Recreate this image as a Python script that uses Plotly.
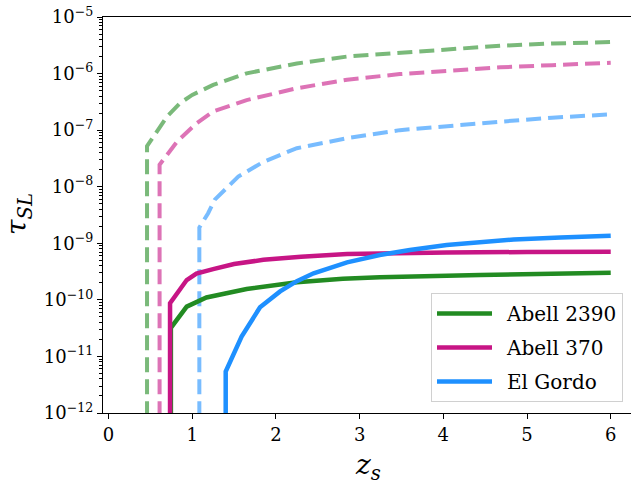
import plotly.graph_objects as go

# ---- data ----
z_a2390_dash = [0.46, 0.46, 0.70, 0.854, 1.0, 1.25, 1.65, 2.25, 2.85, 3.48, 4.0, 4.68, 5.3, 6.0]
tau_a2390_dash = [1e-14, 5.2e-8, 1.74e-7, 3.0e-7, 4.2e-7, 6.3e-7, 1.01e-6, 1.51e-6, 2.0e-6, 2.35e-6, 2.7e-6, 3.1e-6, 3.4e-6, 3.6e-6]

z_a370_dash = [0.61, 0.61, 0.82, 1.05, 1.25, 1.65, 2.25, 2.85, 3.48, 4.0, 4.68, 5.3, 6.0]
tau_a370_dash = [1e-14, 2.45e-8, 6.3e-8, 1.32e-7, 2.14e-7, 3.4e-7, 5.5e-7, 7.8e-7, 9.8e-7, 1.12e-6, 1.29e-6, 1.41e-6, 1.55e-6]

z_elgordo_dash = [1.085, 1.085, 1.19, 1.27, 1.55, 1.85, 2.25, 2.85, 3.48, 4.0, 4.68, 5.3, 6.0]
tau_elgordo_dash = [1e-14, 1.9e-9, 3.4e-9, 5.9e-9, 1.51e-8, 2.75e-8, 4.8e-8, 7.2e-8, 1.0e-7, 1.17e-7, 1.41e-7, 1.66e-7, 1.9e-7]

z_a2390 = [0.745, 0.745, 0.934, 1.17, 1.65, 2.25, 2.8, 3.24, 4.44, 6.0]
tau_a2390 = [1e-14, 3.2e-11, 7.6e-11, 1.1e-10, 1.55e-10, 2.04e-10, 2.35e-10, 2.5e-10, 2.75e-10, 3.0e-10]

z_a370 = [0.735, 0.735, 0.934, 1.05, 1.25, 1.5, 1.85, 2.3, 2.85, 3.4, 4.04, 5.0, 6.0]
tau_a370 = [1e-14, 8.7e-11, 2.24e-10, 2.9e-10, 3.5e-10, 4.3e-10, 5.1e-10, 5.8e-10, 6.45e-10, 6.75e-10, 6.9e-10, 7.0e-10, 7.1e-10]

z_elgordo = [1.40, 1.40, 1.59, 1.81, 2.05, 2.25, 2.45, 2.85, 3.24, 3.6, 4.04, 4.84, 5.4, 6.0]
tau_elgordo = [1e-14, 5.4e-12, 2.24e-11, 7.4e-11, 1.41e-10, 2.14e-10, 2.95e-10, 4.6e-10, 6.2e-10, 7.6e-10, 9.3e-10, 1.17e-9, 1.27e-9, 1.36e-9]

labels = ["Abell 2390", "Abell 370", "El Gordo"]
x_ticks = [0, 1, 2, 3, 4, 5, 6]
y_exps = [-12, -11, -10, -9, -8, -7, -6, -5]

solid_colors = ["#228B22", "#C71585", "#1E90FF"]
dash_colors = ["rgba(34,139,34,0.6)", "rgba(199,21,133,0.6)", "rgba(30,144,255,0.6)"]

FONT = "DejaVu Serif, Liberation Serif, serif"

L, T, R, B = 103, 17, 631, 413
W, H = 631, 480
pw, ph = R - L, B - T

fig = go.Figure()

dash_sets = [(z_a2390_dash, tau_a2390_dash), (z_a370_dash, tau_a370_dash), (z_elgordo_dash, tau_elgordo_dash)]
for (zx, ty), c in zip(dash_sets, dash_colors):
    fig.add_trace(go.Scatter(x=zx, y=ty, mode="lines", showlegend=False, hoverinfo="skip",
                             line=dict(color=c, width=4, dash="15px,7px")))

solid_sets = [(z_a2390, tau_a2390), (z_a370, tau_a370), (z_elgordo, tau_elgordo)]
for (zx, ty), c, lab in zip(solid_sets, solid_colors, labels):
    fig.add_trace(go.Scatter(x=zx, y=ty, mode="lines", name="\u2002" + lab, legendgroup=lab,
                             line=dict(color=c, width=4.5)))

minor_vals = [m * 10.0 ** e for e in range(-12, -5) for m in range(2, 10)]

fig.update_layout(
    width=W, height=H,
    margin=dict(l=L, r=W - R, t=T, b=H - B, autoexpand=False),
    plot_bgcolor="white", paper_bgcolor="white",
    font=dict(family=FONT, size=18, color="black"),
    showlegend=True,
    legend=dict(x=(623 - L) / pw, y=(B - 402) / ph, xanchor="right", yanchor="bottom",
                bgcolor="rgba(255,255,255,0.8)", bordercolor="#d0d0d0", borderwidth=1,
                font=dict(family=FONT, size=20), itemwidth=55, tracegroupgap=5),
    xaxis=dict(range=[-0.066, -0.066 + pw / 83.7], showgrid=False, zeroline=False, automargin=False,
               showline=True, linecolor="black", linewidth=1.2, mirror=True,
               ticks="outside", ticklen=5, tickwidth=1, tickcolor="black",
               ticklabeloverflow="allow",
               tickvals=x_ticks, ticktext=[str(v) for v in x_ticks]),
    yaxis=dict(type="log", range=[-12, -5], showgrid=False, zeroline=False, automargin=False,
               showline=True, linecolor="black", linewidth=1.2, mirror=True,
               ticks="outside", ticklen=5, tickwidth=1, tickcolor="black",
               ticklabeloverflow="allow",
               tickvals=[10.0 ** e for e in y_exps],
               ticktext=["10<sup>\u2212%d</sup>" % (-e) for e in y_exps],
               minor=dict(ticks="outside", ticklen=2.5, tickwidth=0.8, tickcolor="black",
                          tickvals=minor_vals)),
    annotations=[
        dict(text="<i>z</i><sub><i>s</i></sub>", xref="paper", yref="paper",
             x=(368 - L) / pw, y=-(467 - B) / ph, xanchor="center", yanchor="middle",
             showarrow=False, font=dict(family=FONT, size=28)),
        dict(text="<i>\u03c4</i><sub><i>SL</i></sub>", xref="paper", yref="paper",
             x=-(L - 18) / pw, y=(B - 214) / ph, xanchor="center", yanchor="middle",
             textangle=-90, showarrow=False, font=dict(family=FONT, size=28)),
    ],
)

fig.write_html("out.html", config={"displayModeBar": False},
               post_script="document.body.style.margin='0';")
